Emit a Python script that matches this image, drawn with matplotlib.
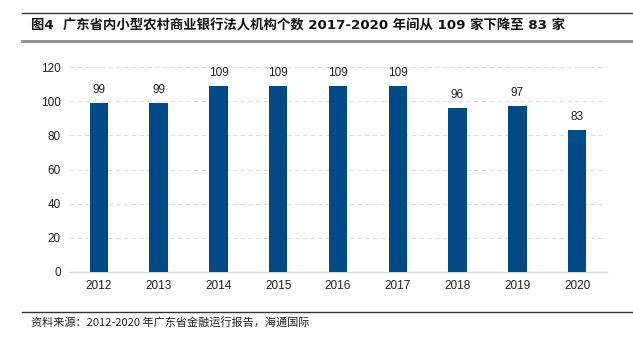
import matplotlib
matplotlib.use("Agg")
import matplotlib.pyplot as plt
from matplotlib.lines import Line2D

years = ["2012", "2013", "2014", "2015", "2016", "2017", "2018", "2019", "2020"]
counts = [99, 99, 109, 109, 109, 109, 96, 97, 83]
yticks = [0, 20, 40, 60, 80, 100, 120]
title = "图4  广东省内小型农村商业银行法人机构个数 2017-2020 年间从 109 家下降至 83 家"
source = "资料来源：2012-2020 年广东省金融运行报告，海通国际"

W, H = 633, 341
fig = plt.figure(figsize=(W / 100, H / 100), dpi=100)
cjk = ["Noto Sans CJK SC", "DejaVu Sans"]
title_fam = ["DejaVu Sans", "Noto Sans CJK SC"]
lat = ["Liberation Sans", "DejaVu Sans"]

ax = fig.add_axes([69 / W, 1 - 272 / H, (607 - 69) / W, (272 - 67) / H])
x = list(range(len(years)))
ax.bar(x, counts, width=0.31, color="#004A87", zorder=3)
ax.set_xlim(-0.5, len(years) - 0.5)
ax.set_ylim(0, 120)
ax.set_yticks(yticks)
ax.set_yticklabels([str(v) for v in yticks], fontfamily=lat, fontsize=8.5, color="#222222")
ax.set_xticks(x)
ax.set_xticklabels(years, fontfamily=lat, fontsize=8.5, color="#222222")
ax.tick_params(axis="both", length=0, pad=6)
ax.yaxis.grid(True, linestyle=(0, (4, 3)), color="#dcdcdc", linewidth=0.8, zorder=0)
for s in ["top", "right", "left"]:
    ax.spines[s].set_visible(False)
ax.spines["bottom"].set_color("#d9d9d9")
ax.spines["bottom"].set_linewidth(1.0)
for xi, v in zip(x, counts):
    ax.annotate(str(v), (xi, v), xytext=(0, 5), textcoords="offset points",
                ha="center", va="bottom", fontsize=8.5, fontfamily=lat, color="#222222")

# header / footer decorations
fig.add_artist(Line2D([22 / W, 1.0], [1 - 13.3 / H] * 2, color="#333333", linewidth=1.0))
fig.add_artist(Line2D([22 / W, 1.0], [1 - 40.5 / H] * 2, color="#8c8c8c", linewidth=2.0))
fig.add_artist(Line2D([22 / W, 1.0], [1 - 311.7 / H] * 2, color="#333333", linewidth=1.0))
fig.text(31 / W, 1 - 26 / H, title, fontfamily=title_fam, fontsize=9.6, fontweight="bold",
         va="center", ha="left", color="#111111")
fig.text(31 / W, 1 - 322.5 / H, source, fontfamily=cjk, fontsize=8,
         va="center", ha="left", color="#222222")

fig.savefig("out.png", dpi=100)
